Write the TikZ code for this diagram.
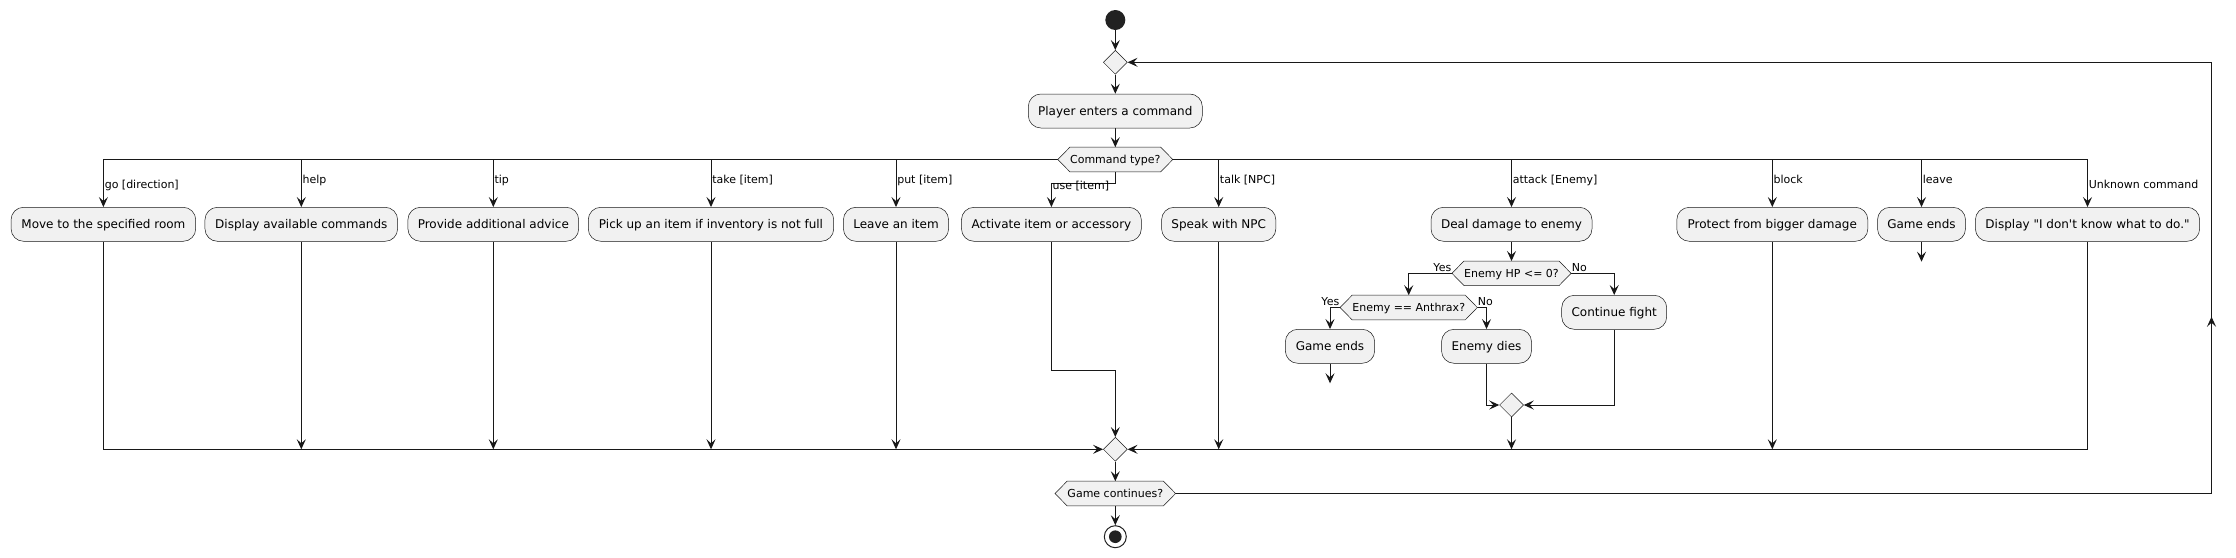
\documentclass[tikz,border=0pt]{standalone}
\usepackage{fontspec}
\setmainfont{DejaVu Sans}[Ligatures=TeXOff]
\usetikzlibrary{shapes.geometric,arrows.meta}
\definecolor{cline}{HTML}{181818}
\definecolor{cfill}{HTML}{F1F1F1}
\definecolor{cdot}{HTML}{222222}
\pgfdeclarelayer{bgl}
\pgfdeclarelayer{lines}
\pgfdeclarelayer{shapes}
\pgfsetlayers{bgl,lines,shapes,main}
\tikzset{
 box/.style={draw=cline, line width=0.375pt, fill=cfill, rounded corners=9.4pt, minimum height=25.5pt, inner xsep=0pt, inner ysep=0pt, font=\fontsize{9pt}{11pt}\selectfont, text height=7.2pt, text depth=0.9pt},
 hexn/.style={inner sep=0pt, minimum height=18pt, font=\fontsize{8.25pt}{10pt}\selectfont, text height=6.75pt, text depth=0.75pt},
 hexsty/.style={draw=cline, line width=0.375pt, fill=cfill},
 merge/.style={diamond, draw=cline, line width=0.375pt, fill=cfill, minimum width=18pt, minimum height=18pt, inner sep=0pt},
 ln/.style={draw=cline, line width=0.75pt},
 arr/.style={ln, -{Stealth[length=7.5pt, width=6.75pt, inset=3pt]}},
 lbl/.style={anchor=base west, inner sep=0pt, font=\fontsize{8.25pt}{10pt}\selectfont},
 lblr/.style={anchor=base east, inner sep=0pt, font=\fontsize{8.25pt}{10pt}\selectfont},
 startdot/.style={circle, fill=cdot, minimum size=15pt, inner sep=0pt},
 endring/.style={circle, draw=cdot, line width=0.75pt, fill=white, minimum size=16.5pt, inner sep=0pt},
 enddot/.style={circle, fill=cdot, minimum size=9.5pt, inner sep=0pt},
}
\begin{document}
\begin{tikzpicture}[x=0.75pt, y=-0.75pt]
\useasboundingbox (0,0) rectangle (2236,557);
\begin{pgfonlayer}{bgl}
\fill[white] (0,0) rectangle (2236,557);
\end{pgfonlayer}

% top column
\node[startdot] (start) at (1115.3,20) {};
\node[merge] (d0) at (1115.3,62.3) {};
\node[box, minimum width=130.5pt] (player) at (1115.3,111) {Player enters a command};
\node[hexn, minimum width=67pt] (cmd) at (1115.3,159.5) {Command type?};

% row of actions
\node[box, minimum width=138.5pt] (b1) at (103.4,224.3) {Move to the specified room};
\node[box, minimum width=144.5pt] (b2) at (301.3,224.3) {Display available commands};
\node[box, minimum width=128.1pt] (b3) at (493.3,224.3) {Provide additional advice};
\node[box, minimum width=184.1pt] (b4) at (711,224.3) {Pick up an item if inventory is not full};
\node[box, minimum width=78.9pt] (b5) at (896,224.3) {Leave an item};
\node[box, minimum width=134.9pt] (b6) at (1051.4,224.3) {Activate item or accessory};
\node[box, minimum width=85.7pt] (b7) at (1218.7,224.3) {Speak with NPC};
\node[box, minimum width=120.75pt] (b8) at (1511.5,224.3) {Deal damage to enemy};
\node[box, minimum width=143.3pt] (b9) at (1772.3,224.3) {Protect from bigger damage};
\node[box, minimum width=66pt] (b10) at (1921.5,224.3) {Game ends};
\node[box, minimum width=168.2pt] (b11) at (2087.5,224.3) {Display "I don't know what to do."};

% attack sub-flow
\node[hexn, minimum width=70.8pt] (hp) at (1511.5,273.3) {Enemy HP <= 0?};
\node[hexn, minimum width=84pt] (anth) at (1408.7,307.5) {Enemy == Anthrax?};
\node[box, minimum width=67pt] (ge2) at (1330,346.3) {Game ends};
\node[box, minimum width=67.5pt] (dies) at (1486.5,346.3) {Enemy dies};
\node[box, minimum width=78.75pt] (cont) at (1614.2,312.3) {Continue fight};
\node[merge] (dm) at (1511.5,405) {};

% bottom column
\node[merge] (m1) at (1115.3,449.3) {};
\node[hexn, minimum width=72pt] (gc) at (1115.3,493.5) {Game continues?};
\node[endring] (endc) at (1115.3,536.7) {};
\node[enddot] (endd) at (1115.3,536.7) {};

% helper points
\coordinate (uj) at (1115.3,183.3);
\coordinate (aj) at (1115.3,370.3);
\coordinate (e10) at (1921.5,261.7);
\coordinate (e2) at (1330,383.3);
\coordinate (lp1) at (2211.5,493.5);
\coordinate (lp2) at (2211.5,62.3);
\coordinate (lpm) at (2211.5,316.7);

% hexagon outlines
\begin{pgfonlayer}{shapes}
\foreach \n in {cmd,hp,anth,gc} {
  \path[hexsty] ([xshift=-9pt]\n.west) -- (\n.north west) -- (\n.north east)
     -- ([xshift=9pt]\n.east) -- (\n.south east) -- (\n.south west) -- cycle;
}
\end{pgfonlayer}

% connectors
\begin{pgfonlayer}{lines}
\draw[arr] (start) -- (d0);
\draw[arr] (d0) -- (player);
\draw[arr] (player) -- (cmd);
\foreach \b in {b1,b2,b3,b4,b5,b7,b8,b9,b10,b11} \draw[arr] (cmd) -| (\b);
\draw[arr] (cmd) -- (uj) -| (b6);

\draw[arr] (b1) |- (m1);
\foreach \b in {b2,b3,b4,b5,b7,b9} \draw[arr] (\b) -- (\b |- m1);
\draw[arr] (b6) |- (aj) -- (m1);
\draw[arr] (b11) |- (m1);
\draw[arr] (dm) -- (dm |- m1);
\draw[arr] (b10) -- (e10);

\draw[arr] (b8) -- (hp);
\draw[arr] (hp) -| (anth);
\draw[arr] (hp) -| (cont);
\draw[arr] (anth) -| (ge2);
\draw[arr] (anth) -| (dies);
\draw[arr] (ge2) -- (e2);
\draw[arr] (dies) |- (dm);
\draw[arr] (cont) |- (dm);

\draw[arr] (m1) -- (gc);
\draw[arr] (gc) -- (endc);
\draw[arr] (gc) -- (lp1) -- (lp2) -- (d0);
\draw[arr] (lp1) -- (lpm);
\end{pgfonlayer}

% branch labels
\node[lbl] (l1) at (104.5,188.3) {go [direction]};
\node[lbl] (l2) at (302.3,183.3) {help};
\node[lbl] (l3) at (494.3,183.3) {tip};
\node[lbl] (l4) at (712,183.3) {take [item]};
\node[lbl] (l5) at (897,183.3) {put [item]};
\node[lbl] (l6) at (1052.4,189) {use [item]};
\node[lbl] (l7) at (1219.7,183.3) {talk [NPC]};
\node[lbl] (l8) at (1512.5,183.3) {attack [Enemy]};
\node[lbl] (l9) at (1773.3,183.3) {block};
\node[lbl] (l10) at (1922.5,183.3) {leave};
\node[lbl] (l11) at (2088.5,188.3) {Unknown command};
\node[lblr] (y1) at (1451.5,271) {Yes};
\node[lbl] (n1) at (1571.5,271) {No};
\node[lblr] (y2) at (1339.5,305.5) {Yes};
\node[lbl] (n2) at (1477.7,305.5) {No};
\end{tikzpicture}
\end{document}
